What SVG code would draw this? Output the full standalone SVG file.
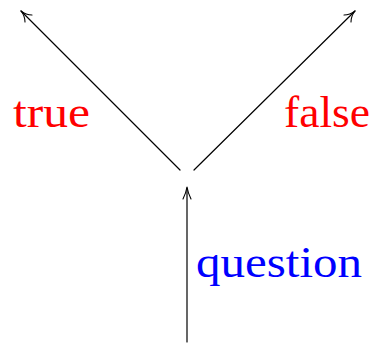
<svg xmlns="http://www.w3.org/2000/svg" width="379" height="346" viewBox="0 0 379 346">
<style>
.c{stroke:#000;stroke-width:1.2;fill:none;stroke-linecap:round}
.h{stroke:#000;stroke-width:1.1;fill:none;stroke-linecap:round;stroke-linejoin:round}
.t{font-family:"Liberation Serif","DejaVu Serif",serif;font-size:45px}
</style>
<rect width="379" height="346" fill="#fff"/>
<g id="connectors">
<line class="c" x1="187" y1="342" x2="187" y2="188"/>
<path class="h" d="M183,199 Q186,193 187,187 Q188,193 191,199"/>
<line class="c" x1="180" y1="170" x2="21" y2="11"/>
<path class="h" d="M21,11 Q26,15 32,15 M21,11 Q25,16 25,22"/>
<line class="c" x1="194" y1="170" x2="355" y2="11"/>
<path class="h" d="M355,11 Q350,15 344,15 M355,11 Q351,16 351,22"/>
</g>
<g id="true"><text class="t" x="13" y="127" fill="#f00" textLength="77" lengthAdjust="spacingAndGlyphs">true</text></g>
<g id="false"><text class="t" x="284" y="127" fill="#f00" textLength="86" lengthAdjust="spacingAndGlyphs">false</text></g>
<g id="question"><text class="t" x="196" y="277" fill="#00f" textLength="166" lengthAdjust="spacingAndGlyphs">question</text></g>
</svg>
